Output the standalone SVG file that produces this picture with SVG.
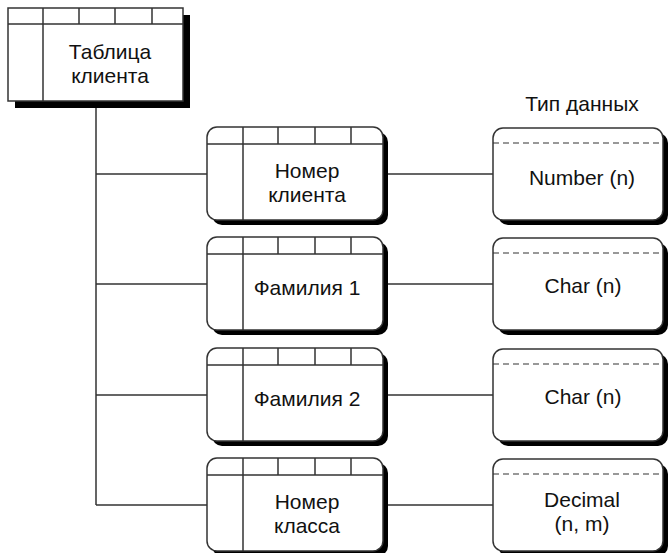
<svg xmlns="http://www.w3.org/2000/svg" width="671" height="553" viewBox="0 0 671 553">
<style>
.ln{stroke:#333;stroke-width:1.5;fill:none}
.box{stroke:#333;stroke-width:1.5;fill:#fff}
.sh{fill:#000}
.dash{stroke:#333;stroke-width:1.2;stroke-dasharray:6 4;fill:none}
text{font-family:"Liberation Sans",Arial,sans-serif;font-size:21px;fill:#111;text-anchor:middle}
</style>
<defs>
<g id="mid">
<rect class="sh" x="5" y="5" width="176" height="93" rx="10"/>
<rect class="box" x="0" y="0" width="176" height="93" rx="10"/>
<path class="ln" d="M0 17H176M36 0V93M71 0V17M108 0V17M144 0V17"/>
</g>
<g id="typ">
<rect class="sh" x="5" y="5" width="170" height="92" rx="10"/>
<rect class="box" x="0" y="0" width="170" height="92" rx="10"/>
<path class="dash" d="M0 15H170"/>
</g>
</defs>
<g id="connectors">
<path class="ln" d="M96 101V505M96 174H207M96 284H207M96 395H207M96 505H207M388 174H493M388 284H493M388 395H493M388 505H493"/>
</g>
<g id="table">
<rect class="sh" x="15" y="15" width="175" height="93"/>
<rect class="box" x="8" y="8" width="175" height="93"/>
<path class="ln" d="M8 24H183M43 8V101M79 8V24M115 8V24M152 8V24"/>
<text x="110" y="59">Таблица</text>
<text x="110" y="83">клиента</text>
</g>
<text x="582" y="111">Тип данных</text>
<g id="field1" transform="translate(207,127)">
<use href="#mid"/>
<text x="100" y="51">Номер</text>
<text x="100" y="75">клиента</text>
</g>
<g id="field2" transform="translate(207,237)">
<use href="#mid"/>
<text x="100" y="58">Фамилия 1</text>
</g>
<g id="field3" transform="translate(207,348)">
<use href="#mid"/>
<text x="100" y="58">Фамилия 2</text>
</g>
<g id="field4" transform="translate(207,458)">
<use href="#mid"/>
<text x="100" y="51">Номер</text>
<text x="100" y="75">класса</text>
</g>
<g id="type1" transform="translate(493,128)">
<use href="#typ"/>
<text x="89" y="57">Number (n)</text>
</g>
<g id="type2" transform="translate(493,238)">
<use href="#typ"/>
<text x="90" y="55">Char (n)</text>
</g>
<g id="type3" transform="translate(493,349)">
<use href="#typ"/>
<text x="90" y="55">Char (n)</text>
</g>
<g id="type4" transform="translate(493,459)">
<use href="#typ"/>
<text x="89" y="48">Decimal</text>
<text x="89" y="72">(n, m)</text>
</g>
</svg>
